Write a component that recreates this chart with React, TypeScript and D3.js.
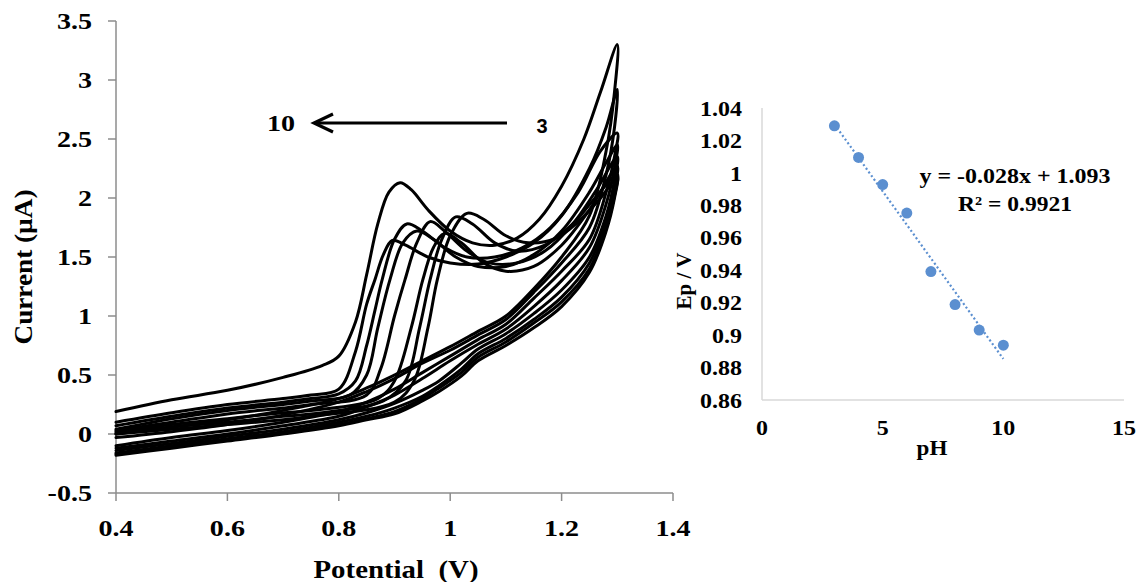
import React from "react";
import * as d3 from "d3";

// ---------- Left panel: cyclic voltammograms ----------
const potentialTicks = [0.4, 0.6, 0.8, 1.0, 1.2, 1.4];
const potentialTickLabels = ["0.4", "0.6", "0.8", "1", "1.2", "1.4"];
const currentTicks = [-0.5, 0, 0.5, 1, 1.5, 2, 2.5, 3, 3.5];
const currentTickLabels = ["-0.5", "0", "0.5", "1", "1.5", "2", "2.5", "3", "3.5"];

// each voltammogram: forward branch (0.4 -> 1.3 V) then reverse branch (1.3 -> 0.4 V)
const cvPH10: [number, number][] = [
  [0.4, 0.1], [0.5, 0.18], [0.6, 0.25], [0.7, 0.3], [0.75, 0.33], [0.8, 0.38], [0.83, 0.7], [0.85, 1.1],
  [0.865, 1.31], [0.88, 1.52], [0.896, 1.64], [0.92, 1.6], [0.96, 1.5], [1.0, 1.45], [1.05, 1.44],
  [1.1, 1.5], [1.15, 1.62], [1.2, 1.85], [1.25, 2.25], [1.28, 2.6], [1.3, 2.92],
  [1.295, 2.6], [1.28, 2.2], [1.25, 1.75], [1.2, 1.45], [1.15, 1.2], [1.1, 0.97], [1.05, 0.84],
  [1.0, 0.71], [0.95, 0.6], [0.9, 0.47], [0.85, 0.36], [0.8, 0.27], [0.7, 0.16], [0.6, 0.08],
  [0.5, 0.02], [0.4, -0.03],
];
const cvPH9: [number, number][] = [
  [0.4, 0.19], [0.5, 0.29], [0.6, 0.37], [0.7, 0.48], [0.77, 0.58], [0.8, 0.66], [0.83, 0.95],
  [0.85, 1.35], [0.87, 1.78], [0.89, 2.05], [0.91, 2.13], [0.93, 2.07], [0.96, 1.9], [1.0, 1.72],
  [1.04, 1.62], [1.08, 1.6], [1.12, 1.66], [1.16, 1.82], [1.2, 2.1], [1.24, 2.5], [1.27, 2.9], [1.3, 3.3],
  [1.295, 2.9], [1.28, 2.4], [1.25, 1.85], [1.2, 1.5], [1.15, 1.23], [1.1, 1.0], [1.05, 0.87],
  [1.0, 0.74], [0.95, 0.62], [0.9, 0.5], [0.85, 0.39], [0.8, 0.3], [0.7, 0.2], [0.6, 0.12],
  [0.5, 0.06], [0.4, 0.0],
];
const cvPH8: [number, number][] = [
  [0.4, 0.07], [0.5, 0.15], [0.6, 0.22], [0.7, 0.27], [0.75, 0.3], [0.8, 0.34], [0.83, 0.45],
  [0.85, 0.75], [0.865, 1.05], [0.878, 1.31], [0.9, 1.65], [0.922, 1.78], [0.95, 1.72], [0.99, 1.58],
  [1.03, 1.5], [1.08, 1.5], [1.13, 1.58], [1.18, 1.75], [1.23, 2.05], [1.27, 2.4], [1.3, 2.55],
  [1.295, 2.35], [1.28, 2.05], [1.25, 1.65], [1.2, 1.38], [1.15, 1.15], [1.1, 0.93], [1.05, 0.8],
  [1.0, 0.66], [0.95, 0.52], [0.9, 0.38], [0.85, 0.27], [0.8, 0.19], [0.7, 0.1], [0.6, 0.03],
  [0.5, -0.03], [0.4, -0.1],
];
const cvPH7: [number, number][] = [
  [0.4, 0.04], [0.5, 0.13], [0.6, 0.2], [0.7, 0.25], [0.75, 0.28], [0.82, 0.33], [0.85, 0.5],
  [0.87, 0.9], [0.892, 1.31], [0.915, 1.62], [0.94, 1.72], [0.97, 1.65], [1.01, 1.5], [1.05, 1.42],
  [1.1, 1.42], [1.15, 1.52], [1.2, 1.72], [1.25, 2.05], [1.28, 2.3], [1.3, 2.45],
  [1.295, 2.25], [1.28, 1.95], [1.25, 1.58], [1.2, 1.3], [1.15, 1.08], [1.1, 0.89], [1.05, 0.76],
  [1.0, 0.62], [0.95, 0.47], [0.9, 0.33], [0.85, 0.23], [0.8, 0.15], [0.7, 0.07], [0.6, 0.0],
  [0.5, -0.06], [0.4, -0.12],
];
const cvPH6: [number, number][] = [
  [0.4, 0.03], [0.5, 0.1], [0.6, 0.17], [0.7, 0.22], [0.75, 0.25], [0.85, 0.33], [0.875, 0.55],
  [0.9, 1.0], [0.919, 1.31], [0.94, 1.62], [0.964, 1.8], [0.99, 1.72], [1.03, 1.55], [1.07, 1.45],
  [1.12, 1.45], [1.17, 1.55], [1.22, 1.78], [1.26, 2.05], [1.3, 2.35],
  [1.295, 2.15], [1.28, 1.85], [1.25, 1.5], [1.2, 1.22], [1.15, 1.02], [1.1, 0.85], [1.05, 0.72],
  [1.02, 0.6], [0.98, 0.45], [0.95, 0.37], [0.9, 0.26], [0.85, 0.18], [0.8, 0.12], [0.7, 0.04],
  [0.6, -0.02], [0.5, -0.08], [0.4, -0.14],
];
const cvPH5: [number, number][] = [
  [0.4, 0.02], [0.5, 0.08], [0.6, 0.13], [0.7, 0.18], [0.75, 0.2], [0.87, 0.3], [0.9, 0.45],
  [0.93, 0.9], [0.951, 1.31], [0.97, 1.58], [0.99, 1.7], [1.02, 1.62], [1.06, 1.45], [1.1, 1.38],
  [1.15, 1.42], [1.2, 1.6], [1.25, 1.9], [1.3, 2.27],
  [1.295, 2.08], [1.28, 1.8], [1.25, 1.45], [1.2, 1.16], [1.15, 0.97], [1.1, 0.81], [1.05, 0.68],
  [1.02, 0.55], [0.98, 0.41], [0.95, 0.32], [0.9, 0.22], [0.85, 0.15], [0.8, 0.1], [0.7, 0.02],
  [0.6, -0.04], [0.5, -0.1], [0.4, -0.16],
];
const cvPH4: [number, number][] = [
  [0.4, 0.01], [0.5, 0.06], [0.6, 0.1], [0.7, 0.15], [0.75, 0.17], [0.88, 0.28], [0.92, 0.45],
  [0.945, 0.9], [0.964, 1.31], [0.985, 1.65], [1.01, 1.84], [1.04, 1.78], [1.08, 1.62], [1.12, 1.55],
  [1.17, 1.6], [1.22, 1.78], [1.26, 2.0], [1.3, 2.2],
  [1.295, 2.02], [1.28, 1.75], [1.25, 1.4], [1.2, 1.12], [1.15, 0.94], [1.1, 0.78], [1.05, 0.65],
  [1.02, 0.52], [0.98, 0.39], [0.95, 0.3], [0.9, 0.19], [0.85, 0.13], [0.8, 0.08], [0.7, 0.01],
  [0.6, -0.05], [0.5, -0.11], [0.4, -0.17],
];
const cvPH3: [number, number][] = [
  [0.4, 0.0], [0.5, 0.04], [0.6, 0.08], [0.7, 0.12], [0.75, 0.15], [0.9, 0.27], [0.935, 0.45],
  [0.96, 0.9], [0.977, 1.31], [1.0, 1.68], [1.03, 1.87], [1.06, 1.82], [1.1, 1.68], [1.14, 1.62],
  [1.19, 1.66], [1.23, 1.8], [1.27, 2.0], [1.3, 2.18],
  [1.295, 2.0], [1.28, 1.72], [1.25, 1.37], [1.2, 1.08], [1.15, 0.9], [1.1, 0.75], [1.05, 0.62],
  [1.02, 0.49], [0.98, 0.36], [0.95, 0.28], [0.9, 0.17], [0.85, 0.12], [0.8, 0.07], [0.7, 0.0],
  [0.6, -0.06], [0.5, -0.12], [0.4, -0.18],
];
const voltammograms = [cvPH3, cvPH4, cvPH5, cvPH6, cvPH7, cvPH8, cvPH9, cvPH10];

// ---------- Right panel: Ep vs pH ----------
const pHValues = [3, 4, 5, 6, 7, 8, 9, 10];
const peakPotentials = [1.029, 1.0095, 0.9928, 0.9752, 0.9392, 0.9188, 0.9031, 0.8938];
const pHTicks = [0, 5, 10, 15];
const epTicks = [0.86, 0.88, 0.9, 0.92, 0.94, 0.96, 0.98, 1.0, 1.02, 1.04];
const epTickLabels = ["0.86", "0.88", "0.9", "0.92", "0.94", "0.96", "0.98", "1", "1.02", "1.04"];

const serif = "'Liberation Serif', 'Times New Roman', serif";

function T(props: {
  x: number;
  y: number;
  sx?: number;
  size: number;
  anchor?: "start" | "middle" | "end";
  dy?: string;
  children: React.ReactNode;
}) {
  const { x, y, sx = 1, size, anchor = "middle", dy, children } = props;
  return (
    <text
      transform={`translate(${x},${y}) scale(${sx},1)`}
      textAnchor={anchor}
      dy={dy}
      fontFamily={serif}
      fontWeight="bold"
      fontSize={size}
      fill="#000"
    >
      {children}
    </text>
  );
}

export default function App() {
  // left scales
  const x = d3.scaleLinear().domain([0.4, 1.4]).range([116, 673]);
  const y = d3.scaleLinear().domain([-0.5, 3.5]).range([493, 21]);
  const line = d3
    .line<[number, number]>()
    .x((d) => x(d[0]))
    .y((d) => y(d[1]))
    .curve(d3.curveCatmullRom.alpha(0.5));

  // right scales
  const x2 = d3.scaleLinear().domain([0, 15]).range([762, 1124]);
  const y2 = d3.scaleLinear().domain([0.86, 1.04]).range([400, 108]);

  // least-squares trendline
  const mx = d3.mean(pHValues)!;
  const my = d3.mean(peakPotentials)!;
  const sxy = d3.sum(pHValues.map((v, i) => (v - mx) * (peakPotentials[i] - my)));
  const sxx = d3.sum(pHValues.map((v) => (v - mx) * (v - mx)));
  const slope = sxy / sxx;
  const intercept = my - slope * mx;
  const xMin = d3.min(pHValues)!;
  const xMax = d3.max(pHValues)!;

  const axisGray = "#8c8c8c";
  const blue = "#5b8fd0";

  return (
    <svg
      width={1136}
      height={582}
      style={{ position: "absolute", left: 0, top: 0, background: "#fff" }}
    >
      <rect x={0} y={0} width={1136} height={582} fill="#fff" />
      {/* Left axes */}
      <line x1={x(0.4)} x2={x(0.4)} y1={y(3.5)} y2={y(-0.5)} stroke={axisGray} strokeWidth={1.5} />
      <line x1={x(0.4)} x2={x(1.4)} y1={y(-0.5)} y2={y(-0.5)} stroke={axisGray} strokeWidth={1.5} />
      {currentTicks.map((t, i) => (
        <g key={"yt" + i}>
          <line x1={x(0.4) - 8} x2={x(0.4)} y1={y(t)} y2={y(t)} stroke={axisGray} strokeWidth={1.5} />
          <T x={92} y={y(t)} dy="0.35em" anchor="end" size={24} sx={1.17}>
            {currentTickLabels[i]}
          </T>
        </g>
      ))}
      {potentialTicks.map((t, i) => (
        <g key={"xt" + i}>
          <line x1={x(t)} x2={x(t)} y1={y(-0.5)} y2={y(-0.5) + 8} stroke={axisGray} strokeWidth={1.5} />
          <T x={x(t)} y={536} size={24} sx={1.17}>
            {potentialTickLabels[i]}
          </T>
        </g>
      ))}
      <text
        x={396}
        y={578}
        textAnchor="middle"
        fontFamily={serif}
        fontWeight="bold"
        fontSize={25}
        textLength={165}
        lengthAdjust="spacingAndGlyphs"
        style={{ whiteSpace: "pre" }}
      >
        {"Potential  (V)"}
      </text>
      <text
        transform="translate(32,267) rotate(-90)"
        textAnchor="middle"
        fontFamily={serif}
        fontWeight="bold"
        fontSize={25}
        textLength={155}
        lengthAdjust="spacingAndGlyphs"
      >
        Current (µA)
      </text>

      {/* voltammograms */}
      <g fill="none" stroke="#000" strokeWidth={3} strokeLinejoin="round" strokeLinecap="round">
        {voltammograms.map((c, i) => (
          <path key={"cv" + i} d={line(c) || ""} />
        ))}
      </g>

      {/* arrow */}
      <line x1={507} x2={315} y1={123} y2={123} stroke="#000" strokeWidth={3.2} />
      <polyline
        points="333,114 314,123 333,132"
        fill="none"
        stroke="#000"
        strokeWidth={3.2}
        strokeLinejoin="miter"
      />
      <T x={281} y={131} size={24} sx={1.17}>
        10
      </T>
      <text
        x={542}
        y={133}
        textAnchor="middle"
        fontFamily="'Liberation Sans', Arial, sans-serif"
        fontWeight="bold"
        fontSize={20}
      >
        3
      </text>

      {/* Right axes */}
      <line x1={x2(0)} x2={x2(0)} y1={y2(1.04)} y2={y2(0.86)} stroke="#d9d9d9" strokeWidth={1.5} />
      <line x1={x2(0)} x2={x2(15)} y1={y2(0.86)} y2={y2(0.86)} stroke="#d9d9d9" strokeWidth={1.5} />
      {epTicks.map((t, i) => (
        <T key={"et" + i} x={742} y={y2(t)} dy="0.35em" anchor="end" size={22} sx={1.09}>
          {epTickLabels[i]}
        </T>
      ))}
      {pHTicks.map((t, i) => (
        <T key={"pt" + i} x={x2(t)} y={435} size={22} sx={1.09}>
          {t}
        </T>
      ))}
      <T x={932} y={455} size={22} sx={1.05}>
        pH
      </T>
      <text
        transform="translate(691,281) rotate(-90)"
        textAnchor="middle"
        fontFamily={serif}
        fontWeight="bold"
        fontSize={21}
        style={{ whiteSpace: "pre" }}
      >
        Ep / V
      </text>

      {/* trendline */}
      <line
        x1={x2(xMin)}
        y1={y2(slope * xMin + intercept)}
        x2={x2(xMax)}
        y2={y2(slope * xMax + intercept)}
        stroke={blue}
        strokeWidth={2.2}
        strokeDasharray="2 2.5"
      />
      {pHValues.map((v, i) => (
        <circle key={"pt" + i} cx={x2(v)} cy={y2(peakPotentials[i])} r={5.5} fill={blue} />
      ))}
      <text
        x={1015}
        y={183}
        textAnchor="middle"
        fontFamily={serif}
        fontWeight="bold"
        fontSize={22}
        textLength={191}
        lengthAdjust="spacingAndGlyphs"
      >
        y = -0.028x + 1.093
      </text>
      <text
        x={1015}
        y={211}
        textAnchor="middle"
        fontFamily={serif}
        fontWeight="bold"
        fontSize={22}
        textLength={114}
        lengthAdjust="spacingAndGlyphs"
      >
        R² = 0.9921
      </text>
    </svg>
  );
}
